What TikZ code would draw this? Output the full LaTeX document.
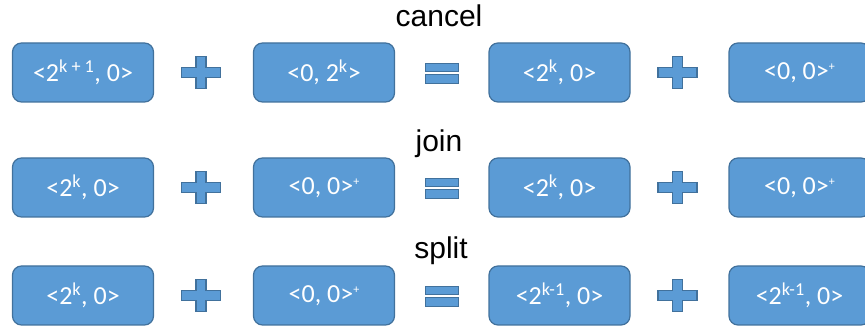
\documentclass[tikz,border=0pt]{standalone}
\usepackage{fontspec}
\setmainfont{Carlito}
\newfontfamily\titlefont{Liberation Sans}
\definecolor{boxfill}{HTML}{5B9BD5}
\definecolor{boxline}{HTML}{41719C}
\newcommand{\spr}[1]{\textsuperscript{#1}}
\newcommand{\smallplus}{\raisebox{9pt}{\fontsize{12}{12}\selectfont +}}
\tikzset{
  valbox/.style={draw=boxline, fill=boxfill, line width=1.2pt, rounded corners=9pt,
    minimum width=141pt, minimum height=59pt, text=white,
    font=\fontsize{26}{30}\selectfont, inner sep=0pt},
  title/.style={font=\titlefont\fontsize{30}{34}\selectfont, anchor=base, inner sep=0pt},
  sym/.style={draw=boxline, fill=boxfill, line width=1.2pt},
  plussign/.pic={\path[sym] (-5,-16) -- (5,-16) -- (5,-5) -- (19.5,-5) -- (19.5,5)
      -- (5,5) -- (5,16) -- (-5,16) -- (-5,5) -- (-19.5,5) -- (-19.5,-5)
      -- (-5,-5) -- cycle;},
  eqsign/.pic={\path[sym] (-16.5,-8.9) rectangle (16.5,-1.3);
      \path[sym] (-16.5,2.3) rectangle (16.5,10.9);}
}
\begin{document}
\begin{tikzpicture}[x=1pt,y=-1pt]
\useasboundingbox (0,0) rectangle (865,328);
\clip (0,0) rectangle (865,328);
% titles
\node[title] (tcancel) at (439,27) {cancel};
\node[title] (tjoin) at (439,152) {join};
\node[title] (tsplit) at (441,259) {split};
% row 1
\node[valbox] (a1) at (83,72.5) {<2\spr{k + 1}, 0>};
\pic at (201,72.5) {plussign};
\node[valbox] (b1) at (324,72.5) {<0, 2\spr{k}>};
\pic at (442,72.5) {eqsign};
\node[valbox] (c1) at (559.5,72.5) {<2\spr{k}, 0>};
\pic at (677.5,72.5) {plussign};
\node[valbox] (d1) at (799.5,72.5) {<0, 0>\smallplus};
% row 2
\node[valbox] (a2) at (83,187.5) {<2\spr{k}, 0>};
\pic at (201,187.5) {plussign};
\node[valbox] (b2) at (324,187.5) {<0, 0>\smallplus};
\pic at (442,187.5) {eqsign};
\node[valbox] (c2) at (559.5,187.5) {<2\spr{k}, 0>};
\pic at (677.5,187.5) {plussign};
\node[valbox] (d2) at (799.5,187.5) {<0, 0>\smallplus};
% row 3
\node[valbox] (a3) at (83,295.5) {<2\spr{k}, 0>};
\pic at (201,295.5) {plussign};
\node[valbox] (b3) at (324,295.5) {<0, 0>\smallplus};
\pic at (442,295.5) {eqsign};
\node[valbox] (c3) at (559.5,295.5) {<2\spr{k-1}, 0>};
\pic at (677.5,295.5) {plussign};
\node[valbox] (d3) at (799.5,295.5) {<2\spr{k-1}, 0>};
\end{tikzpicture}
\end{document}
